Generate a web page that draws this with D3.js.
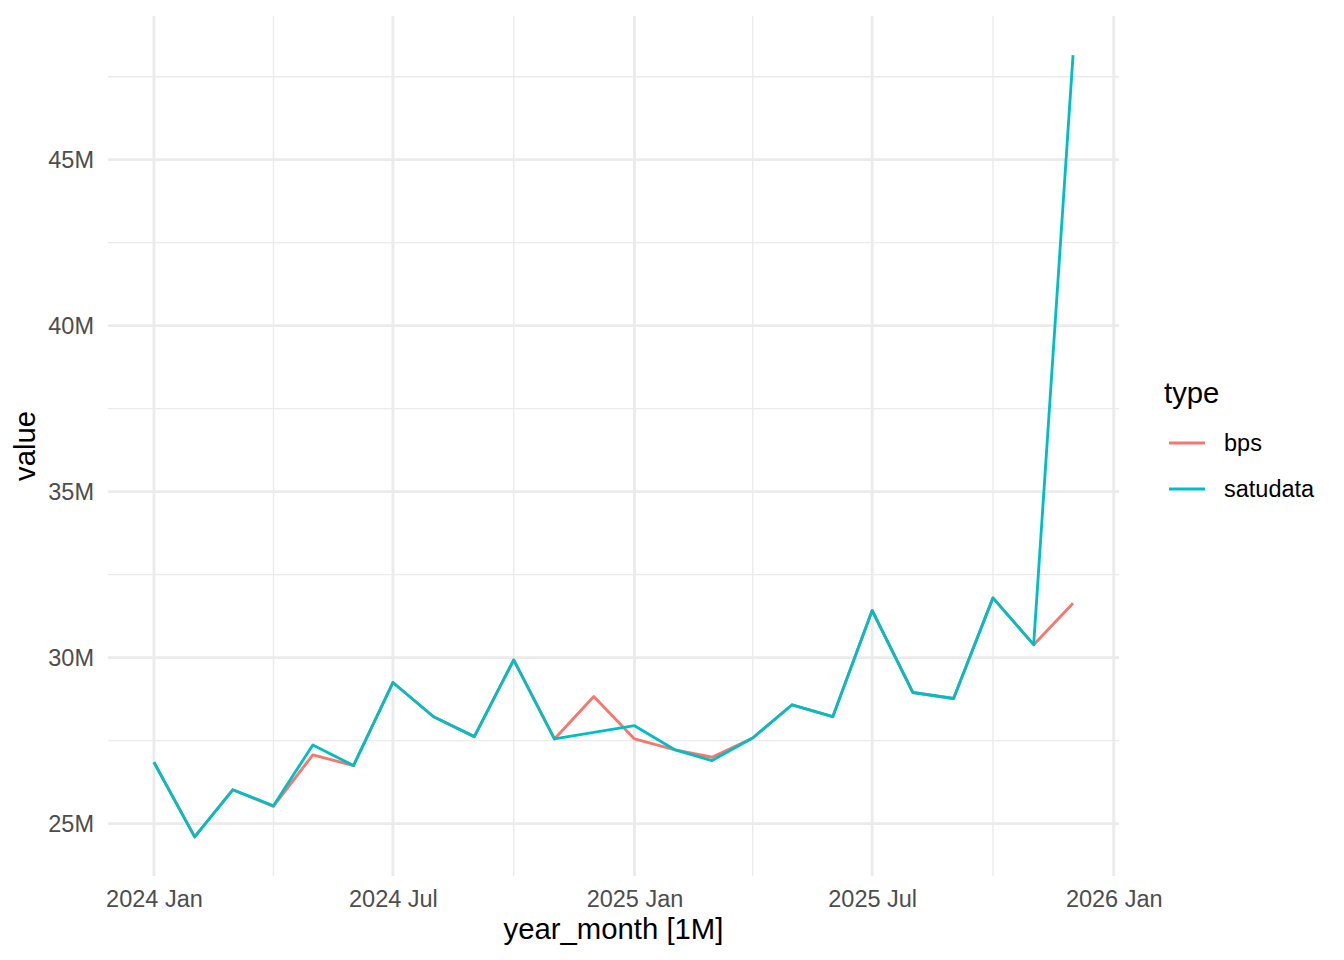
<!DOCTYPE html>
<html>
<head>
<meta charset="utf-8">
<script src="https://cdn.jsdelivr.net/npm/d3@7"></script>
<style>
  html, body { margin: 0; padding: 0; background: #fff; }
  svg { display: block; font-family: "Liberation Sans", Arial, Helvetica, sans-serif; }
</style>
</head>
<body>
<svg id="chart" width="1344" height="960"></svg>
<script>
// ---- data (values in millions) ----
const months = ["2024-01","2024-02","2024-03","2024-04","2024-05","2024-06","2024-07","2024-08","2024-09","2024-10","2024-11","2024-12",
                "2025-01","2025-02","2025-03","2025-04","2025-05","2025-06","2025-07","2025-08","2025-09","2025-10","2025-11","2025-12"];
const bps      = [26.85, 24.60, 26.02, 25.52, 27.07, 26.75, 29.25, 28.22, 27.62, 29.93, 27.55, 28.83,
                  27.55, 27.22, 27.00, 27.58, 28.58, 28.22, 31.42, 28.95, 28.77, 31.80, 30.39, 31.64];
const satudata = [26.85, 24.60, 26.02, 25.54, 27.37, 26.75, 29.25, 28.22, 27.62, 29.93, 27.55, 27.75,
                  27.95, 27.22, 26.90, 27.58, 28.58, 28.22, 31.42, 28.95, 28.77, 31.80, 30.39, 48.15];
const seriesNames = ["bps", "satudata"];
const seriesColors = ["#F8766D", "#00BFC4"];
const xMajorTicks = ["2024-01","2024-07","2025-01","2025-07","2026-01"];
const xMajorLabels = ["2024 Jan","2024 Jul","2025 Jan","2025 Jul","2026 Jan"];
const xMinorTicks = ["2024-04","2024-10","2025-04","2025-10"];
const yMajorTicks = [25, 30, 35, 40, 45];
const yMinorTicks = [27.5, 32.5, 37.5, 42.5, 47.5];

// ---- layout ----
const panel = { left: 108, right: 1119, top: 16, bottom: 876 };
const parse = d3.timeParse("%Y-%m");
const dates = months.map(parse);
const svg = d3.select("#chart");

const xExt = d3.extent(dates);
const xPad = (xExt[1] - xExt[0]) * 0.05;
const x = d3.scaleTime()
  .domain([new Date(+xExt[0] - xPad), new Date(+xExt[1] + xPad)])
  .range([panel.left, panel.right]);

const allVals = bps.concat(satudata);
const yExt = d3.extent(allVals);
const yPad = (yExt[1] - yExt[0]) * 0.05;
const y = d3.scaleLinear()
  .domain([yExt[0] - yPad, yExt[1] + yPad])
  .range([panel.bottom, panel.top]);

// ---- grid ----
const grid = svg.append("g");
grid.selectAll(".ymin").data(yMinorTicks).join("line")
  .attr("x1", panel.left).attr("x2", panel.right)
  .attr("y1", d => y(d)).attr("y2", d => y(d))
  .attr("stroke", "#EBEBEB").attr("stroke-width", 1.42);
grid.selectAll(".xmin").data(xMinorTicks.map(parse)).join("line")
  .attr("y1", panel.top).attr("y2", panel.bottom)
  .attr("x1", d => x(d)).attr("x2", d => x(d))
  .attr("stroke", "#EBEBEB").attr("stroke-width", 1.42);
grid.selectAll(".ymaj").data(yMajorTicks).join("line")
  .attr("x1", panel.left).attr("x2", panel.right)
  .attr("y1", d => y(d)).attr("y2", d => y(d))
  .attr("stroke", "#EBEBEB").attr("stroke-width", 2.84);
grid.selectAll(".xmaj").data(xMajorTicks.map(parse)).join("line")
  .attr("y1", panel.top).attr("y2", panel.bottom)
  .attr("x1", d => x(d)).attr("x2", d => x(d))
  .attr("stroke", "#EBEBEB").attr("stroke-width", 2.84);

// ---- axes labels ----
const yAxis = d3.axisLeft(y).tickValues(yMajorTicks).tickFormat(d => d + "M").tickSize(0).tickPadding(14);
const yg = svg.append("g").attr("transform", `translate(${panel.left},0)`).call(yAxis);
yg.select(".domain").remove();
yg.selectAll("text").attr("fill", "#4D4D4D").attr("font-size", 23.5)
  .attr("font-family", "Liberation Sans, Arial, sans-serif");

const xAxis = d3.axisBottom(x).tickValues(xMajorTicks.map(parse))
  .tickFormat((d, i) => xMajorLabels[i]).tickSize(0).tickPadding(14);
const xg = svg.append("g").attr("transform", `translate(0,${panel.bottom})`).call(xAxis);
xg.select(".domain").remove();
xg.selectAll("text").attr("fill", "#4D4D4D").attr("font-size", 23.5)
  .attr("font-family", "Liberation Sans, Arial, sans-serif");

// ---- lines ----
const seriesData = [bps, satudata];
const line = d3.line().x((d, i) => x(dates[i])).y(d => y(d));
svg.append("g").selectAll("path").data(seriesData).join("path")
  .attr("d", d => line(d))
  .attr("fill", "none")
  .attr("stroke", (d, i) => seriesColors[i])
  .attr("stroke-width", 2.84)
  .attr("stroke-linejoin", "round")
  .attr("stroke-linecap", "butt");

// ---- titles ----
svg.append("text").attr("x", (panel.left + panel.right) / 2).attr("y", 939)
  .attr("text-anchor", "middle").attr("font-size", 29.3).attr("fill", "#000")
  .text("year_month [1M]");
svg.append("text")
  .attr("transform", `translate(35,${(panel.top + panel.bottom) / 2}) rotate(-90)`)
  .attr("text-anchor", "middle").attr("font-size", 29.3).attr("fill", "#000")
  .text("value");

// ---- legend ----
const lg = svg.append("g");
lg.append("text").attr("x", 1164).attr("y", 403).attr("font-size", 29.3).attr("fill", "#000").text("type");
const items = lg.selectAll(".item").data(seriesNames).join("g")
  .attr("transform", (d, i) => `translate(0,${443 + i * 46})`);
items.append("line").attr("x1", 1169).attr("x2", 1205).attr("y1", 0).attr("y2", 0)
  .attr("stroke", (d, i) => seriesColors[i]).attr("stroke-width", 2.84);
items.append("text").attr("x", 1224).attr("y", 0).attr("dy", "0.35em")
  .attr("font-size", 23.5).attr("fill", "#000").text(d => d);
</script>
</body>
</html>
